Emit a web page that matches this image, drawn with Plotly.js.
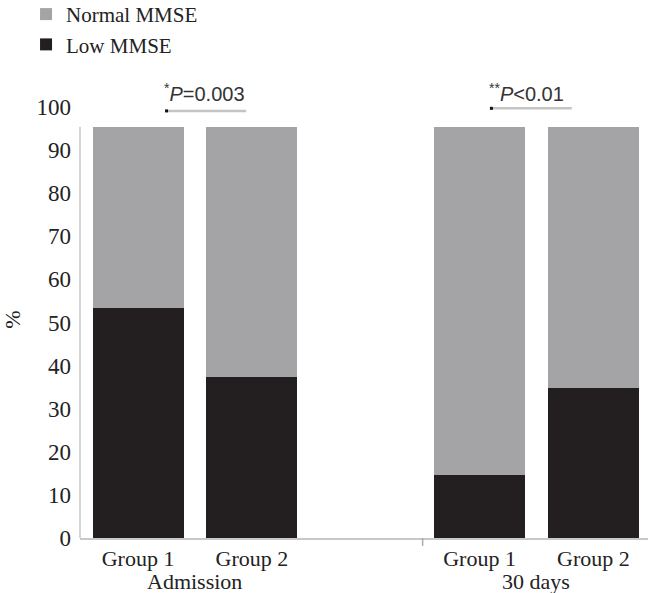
<!DOCTYPE html>
<html>
<head>
<meta charset="utf-8">
<script src="https://cdn.plot.ly/plotly-3.0.1.min.js"></script>
<style>html,body{margin:0;padding:0;background:#fff;}#chart{width:648px;height:593px;}</style>
</head>
<body>
<div id="chart"></div>
<script>
// ---- data ----
const periods = ["Admission", "30 days"];
const groups = ["Group 1", "Group 2"];
const seriesNames = ["Low MMSE", "Normal MMSE"];
// values per bar in order: Admission G1, Admission G2, 30 days G1, 30 days G2
const lowMMSE = [53.4, 37.4, 14.6, 34.8];
const normalMMSE = [42.0, 58.0, 80.8, 60.6];
const pLabels = ["<sup>*</sup><i>P</i>=0.003", "<sup>**</sup><i>P</i>&lt;0.01"];
const yTicks = [0, 10, 20, 30, 40, 50, 60, 70, 80, 90, 100];

// slot positions: groups side by side, an empty slot between periods
const xPos = [], tickText = [];
periods.forEach((p, i) => groups.forEach((g, j) => { xPos.push(i * 3 + j); tickText.push(g); }));
const barTop = Math.max(...lowMMSE.map((v, i) => v + normalMMSE[i]));

const serif = "Liberation Serif, Times New Roman, serif";
const sans = "Liberation Sans, Arial, sans-serif";

const traces = [
  {type: "bar", name: seriesNames[0], x: xPos, y: lowMMSE, width: 0.8,
   marker: {color: "#231f20"}, hoverinfo: "y"},
  {type: "bar", name: seriesNames[1], x: xPos, y: normalMMSE, width: 0.8,
   marker: {color: "#a4a4a6"}, hoverinfo: "y"}
];

const annotations = [];
const shapes = [];
periods.forEach((p, i) => {
  const xa = xPos[i * 2], xb = xPos[i * 2 + 1];
  annotations.push({text: p, xref: "x", yref: "paper", x: (xa + xb) / 2, y: -0.1,
    xanchor: "center", yanchor: "middle", showarrow: false,
    font: {family: serif, size: 22, color: "#222"}});
});
// significance labels and brackets
const pY = [99.1, 99.7];
const pX0 = [0.246, 3.10];
const pX1 = [0.95, 3.81];
pLabels.forEach((t, i) => {
  annotations.push({text: t, xref: "x", yref: "paper", x: pX0[i] - 0.035, y: 1.02,
    xanchor: "left", yanchor: "middle", showarrow: false,
    font: {family: sans, size: 20, color: "#333"}});
  shapes.push({type: "line", xref: "x", yref: "y", x0: pX0[i], x1: pX1[i], y0: pY[i], y1: pY[i],
    line: {color: "#c4c4c4", width: 2.5}});
  shapes.push({type: "rect", xref: "x", yref: "y", xsizemode: "pixel", ysizemode: "pixel",
    xanchor: pX0[i], yanchor: pY[i], x0: -1, x1: 2, y0: -1.5, y1: 1.5,
    fillcolor: "#111", line: {width: 0}});
});
// y axis line up to the top of the bars
shapes.push({type: "line", xref: "paper", yref: "y", x0: 0, x1: 0, y0: 0, y1: barTop,
  line: {color: "#c8c8c8", width: 1.5}});
// divider tick between periods
shapes.push({type: "line", xref: "x", yref: "paper", x0: 2.5, x1: 2.5, y0: 0, y1: -0.018,
  line: {color: "#aaa", width: 1.5}});

const layout = {
  width: 648, height: 593,
  margin: {l: 80, r: 0, t: 101, b: 55, autoexpand: false},
  paper_bgcolor: "#fff", plot_bgcolor: "#fff",
  barmode: "stack",
  showlegend: true,
  legend: {orientation: "v", x: -0.095, y: 1.245, xanchor: "left", yanchor: "top",
    traceorder: "reversed", font: {family: serif, size: 21, color: "#222"},
    bgcolor: "rgba(0,0,0,0)", tracegroupgap: 0},
  xaxis: {range: [-0.51, 4.48], tickvals: xPos, ticktext: tickText, showgrid: false,
    zeroline: false, showline: true, linecolor: "#c8c8c8", linewidth: 1.5, ticks: "",
    tickfont: {family: serif, size: 22, color: "#222"}, fixedrange: true},
  yaxis: {range: [0, 101.4], tickvals: yTicks, showgrid: false, zeroline: false,
    showline: false, ticks: "",
    ticklabelstandoff: 8,
    tickfont: {family: serif, size: 23, color: "#222"},
    title: {text: "%", standoff: 9, font: {family: serif, size: 22, color: "#222"}},
    fixedrange: true},
  annotations: annotations,
  shapes: shapes
};

Plotly.newPlot("chart", traces, layout, {displayModeBar: false, staticPlot: true});
</script>
</body>
</html>
